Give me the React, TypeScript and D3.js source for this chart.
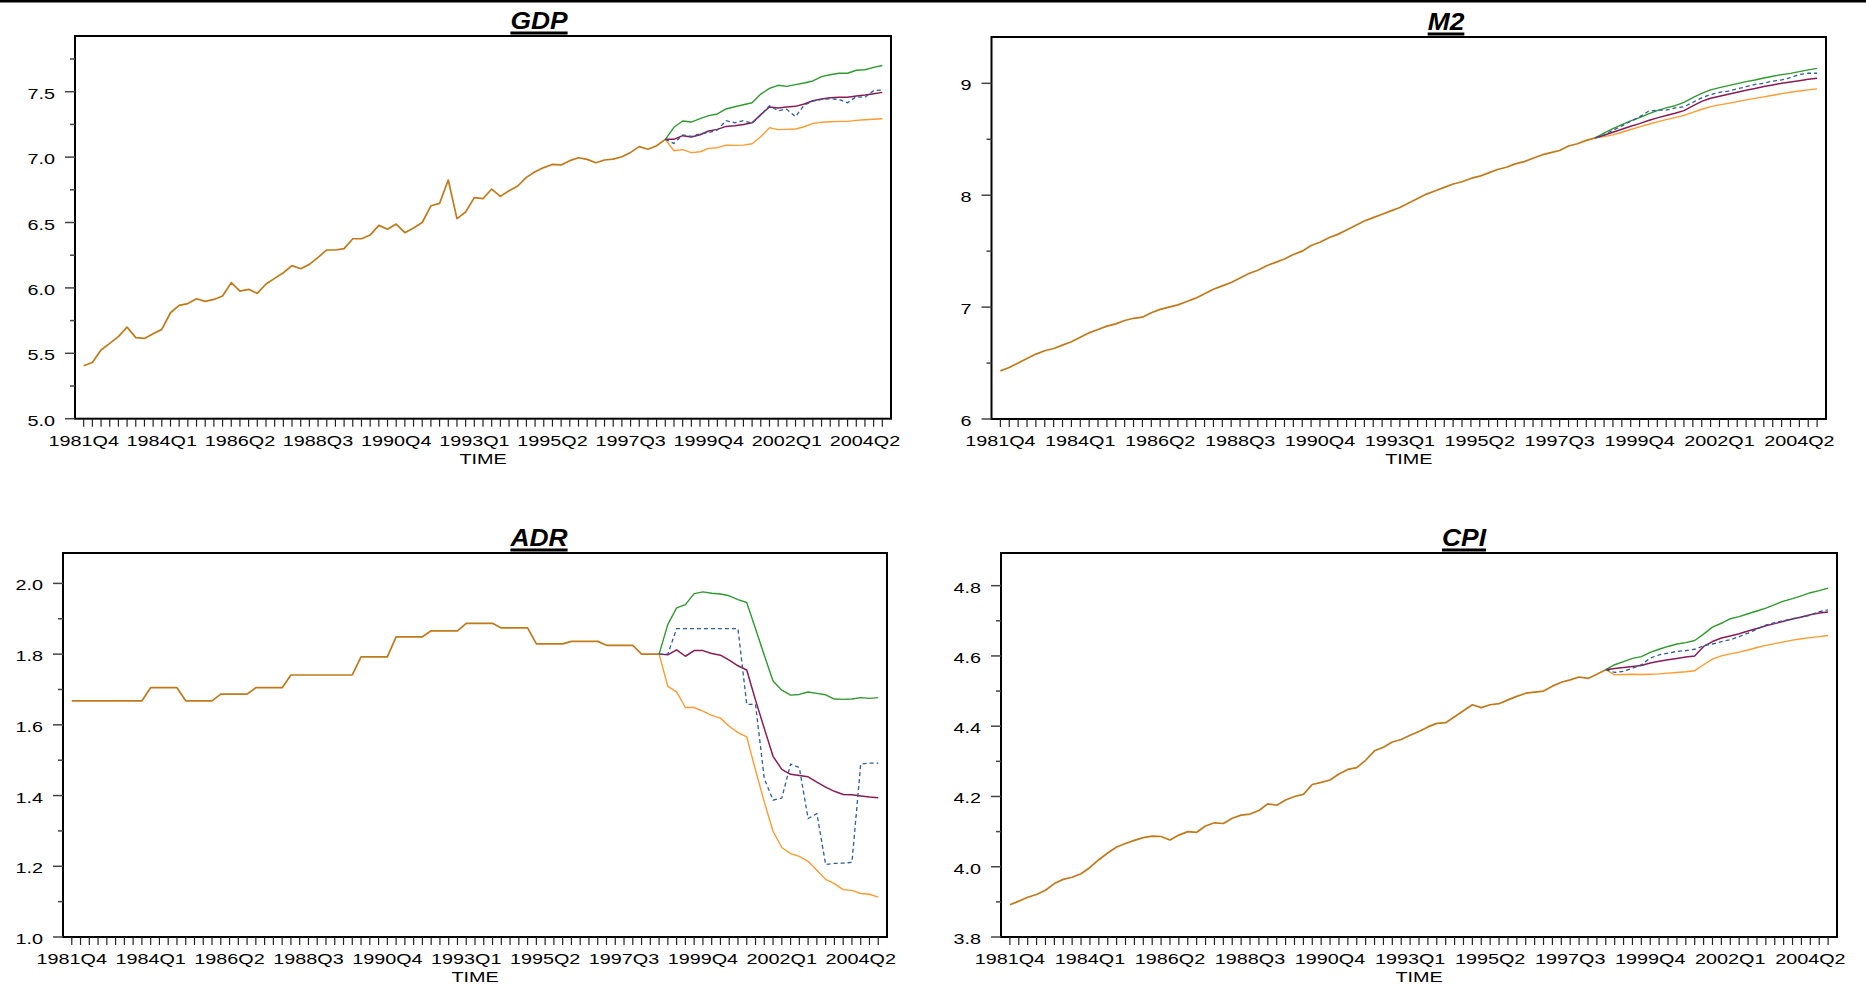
import React from 'react';
import * as d3 from 'd3';

// ---------- categories ----------
const START_YEAR = 1981;
const START_QUARTER = 4;
const N_QUARTERS = 93; // 1981Q4 .. 2004Q4
const SPLIT_INDEX = 67; // 1998Q3, forecasts start here
const QUARTERS: string[] = d3.range(N_QUARTERS).map((i) => {
  const k = START_QUARTER - 1 + i;
  return `${START_YEAR + Math.floor(k / 4)}Q${(k % 4) + 1}`;
});
const X_TICK_LABELS = ['1981Q4', '1984Q1', '1986Q2', '1988Q3', '1990Q4', '1993Q1', '1995Q2', '1997Q3', '1999Q4', '2002Q1', '2004Q2'];
const X_AXIS_LABEL = 'TIME';

// ---------- GDP ----------
const GDP_HIST = [5.405, 5.43, 5.525, 5.576, 5.627, 5.70, 5.62, 5.614, 5.65, 5.683,
  5.81, 5.866, 5.88, 5.917, 5.897, 5.912, 5.938, 6.04, 5.976, 5.989,
  5.958, 6.03, 6.073, 6.116, 6.17, 6.147, 6.18, 6.233, 6.29, 6.29,
  6.30, 6.376, 6.376, 6.404, 6.478, 6.448, 6.488, 6.422, 6.458, 6.50,
  6.628, 6.646, 6.825, 6.53, 6.58, 6.69, 6.682, 6.756, 6.70, 6.743,
  6.779, 6.845, 6.888, 6.92, 6.944, 6.94, 6.973, 6.995, 6.983, 6.957,
  6.978, 6.985, 7.003, 7.036, 7.08, 7.06, 7.087, 7.136];
const GDP_UPPER = [7.136, 7.228, 7.276, 7.268, 7.294, 7.317, 7.33, 7.368, 7.385, 7.40, 7.416, 7.482, 7.526, 7.549, 7.541, 7.554, 7.567, 7.582, 7.615, 7.63, 7.641, 7.641, 7.664, 7.668, 7.686, 7.70];
const GDP_BASE = [7.136, 7.136, 7.164, 7.154, 7.171, 7.20, 7.212, 7.235, 7.24, 7.25, 7.263, 7.325, 7.383, 7.375, 7.383, 7.388, 7.406, 7.431, 7.444, 7.454, 7.457, 7.457, 7.467, 7.475, 7.485, 7.495];
const GDP_LOWER = [7.136, 7.049, 7.057, 7.034, 7.041, 7.067, 7.072, 7.092, 7.09, 7.092, 7.102, 7.156, 7.225, 7.21, 7.212, 7.215, 7.232, 7.258, 7.266, 7.27, 7.273, 7.273, 7.281, 7.286, 7.289, 7.293];
const GDP_ACTUAL = [7.136, 7.105, 7.17, 7.158, 7.178, 7.187, 7.208, 7.279, 7.263, 7.279, 7.258, 7.322, 7.393, 7.355, 7.365, 7.309, 7.398, 7.428, 7.441, 7.446, 7.441, 7.416, 7.462, 7.457, 7.508, 7.513];
const GDP_TICKS = [5.0, 5.5, 6.0, 6.5, 7.0, 7.5];
const GDP_MINOR = [5.25, 5.75, 6.25, 6.75, 7.25, 7.75];

// ---------- M2 ----------
const M2_HIST = [6.43, 6.46, 6.50, 6.54, 6.58, 6.61, 6.63, 6.66, 6.69, 6.73,
  6.77, 6.80, 6.83, 6.85, 6.88, 6.90, 6.91, 6.95, 6.98, 7.00,
  7.02, 7.05, 7.08, 7.12, 7.16, 7.19, 7.22, 7.26, 7.30, 7.33,
  7.37, 7.40, 7.43, 7.47, 7.50, 7.55, 7.58, 7.62, 7.65, 7.69,
  7.73, 7.77, 7.80, 7.83, 7.86, 7.89, 7.93, 7.97, 8.01, 8.04,
  8.07, 8.10, 8.12, 8.15, 8.17, 8.20, 8.23, 8.25, 8.28, 8.30,
  8.33, 8.36, 8.38, 8.40, 8.44, 8.46, 8.49, 8.512];
const M2_UPPER = [8.512, 8.554, 8.596, 8.631, 8.664, 8.694, 8.727, 8.756, 8.78, 8.80, 8.83, 8.872, 8.911, 8.941, 8.962, 8.98, 8.997, 9.015, 9.03, 9.048, 9.063, 9.078, 9.089, 9.104, 9.12, 9.134];
const M2_BASE = [8.512, 8.536, 8.563, 8.589, 8.616, 8.640, 8.667, 8.691, 8.712, 8.732, 8.756, 8.798, 8.839, 8.866, 8.884, 8.902, 8.920, 8.938, 8.953, 8.971, 8.986, 9.00, 9.012, 9.024, 9.036, 9.045];
const M2_LOWER = [8.512, 8.524, 8.539, 8.563, 8.587, 8.611, 8.634, 8.655, 8.676, 8.694, 8.714, 8.741, 8.768, 8.792, 8.807, 8.821, 8.837, 8.852, 8.866, 8.879, 8.893, 8.908, 8.92, 8.932, 8.941, 8.95];
const M2_ACTUAL = [8.512, 8.54, 8.58, 8.62, 8.66, 8.70, 8.75, 8.76, 8.76, 8.78, 8.79, 8.83, 8.87, 8.90, 8.92, 8.93, 8.95, 8.97, 8.99, 9.00, 9.02, 9.03, 9.05, 9.08, 9.09, 9.09];
const M2_TICKS = [6, 7, 8, 9];
const M2_MINOR = [6.5, 7.5, 8.5];

// ---------- ADR ----------
const ADR_HIST = [1.668, 1.668, 1.668, 1.668, 1.668, 1.668, 1.668, 1.668, 1.668,
  1.705, 1.705, 1.705, 1.705,
  1.668, 1.668, 1.668, 1.668,
  1.687, 1.687, 1.687, 1.687,
  1.705, 1.705, 1.705, 1.705,
  1.741, 1.741, 1.741, 1.741, 1.741, 1.741, 1.741, 1.741,
  1.792, 1.792, 1.792, 1.792,
  1.849, 1.849, 1.849, 1.849,
  1.866, 1.866, 1.866, 1.866,
  1.887, 1.887, 1.887, 1.887,
  1.874, 1.874, 1.874, 1.874,
  1.829, 1.829, 1.829, 1.829,
  1.836, 1.836, 1.836, 1.836,
  1.825, 1.825, 1.825, 1.825,
  1.80, 1.80, 1.80];
const ADR_UPPER = [1.80, 1.884, 1.931, 1.940, 1.971, 1.976, 1.972, 1.970, 1.965, 1.954, 1.946, 1.872, 1.797, 1.724, 1.698, 1.684, 1.686, 1.693, 1.689, 1.685, 1.673, 1.672, 1.673, 1.677, 1.675, 1.677];
const ADR_BASE = [1.80, 1.798, 1.812, 1.794, 1.81, 1.81, 1.802, 1.797, 1.783, 1.767, 1.755, 1.67, 1.59, 1.511, 1.474, 1.46, 1.457, 1.453, 1.438, 1.424, 1.412, 1.403, 1.402, 1.399, 1.396, 1.394];
const ADR_LOWER = [1.80, 1.709, 1.693, 1.649, 1.649, 1.639, 1.627, 1.619, 1.596, 1.578, 1.566, 1.472, 1.382, 1.299, 1.253, 1.236, 1.228, 1.214, 1.189, 1.163, 1.151, 1.134, 1.132, 1.123, 1.121, 1.113];
const ADR_ACTUAL = [1.80, 1.80, 1.872, 1.872, 1.872, 1.872, 1.872, 1.872, 1.872, 1.872, 1.658, 1.658, 1.448, 1.387, 1.393, 1.489, 1.479, 1.335, 1.349, 1.205, 1.208, 1.209, 1.211, 1.489, 1.492, 1.492];
const ADR_TICKS = [1.0, 1.2, 1.4, 1.6, 1.8, 2.0];
const ADR_MINOR = [1.1, 1.3, 1.5, 1.7, 1.9];

// ---------- CPI ----------
const CPI_HIST = [3.892, 3.902, 3.913, 3.921, 3.933, 3.952, 3.964, 3.970, 3.980, 3.998,
  4.020, 4.039, 4.056, 4.066, 4.075, 4.083, 4.087, 4.086, 4.076, 4.090,
  4.100, 4.098, 4.116, 4.125, 4.123, 4.138, 4.147, 4.150, 4.160, 4.179,
  4.175, 4.190, 4.200, 4.206, 4.234, 4.240, 4.247, 4.264, 4.277, 4.282,
  4.303, 4.330, 4.340, 4.355, 4.362, 4.374, 4.385, 4.398, 4.408, 4.410,
  4.427, 4.444, 4.461, 4.453, 4.461, 4.464, 4.475, 4.485, 4.494, 4.497,
  4.500, 4.514, 4.525, 4.532, 4.540, 4.536, 4.548, 4.561];
const CPI_UPPER = [4.561, 4.575, 4.584, 4.593, 4.598, 4.61, 4.619, 4.627, 4.634, 4.638, 4.644, 4.662, 4.682, 4.693, 4.706, 4.712, 4.72, 4.728, 4.736, 4.746, 4.756, 4.763, 4.771, 4.78, 4.786, 4.793];
const CPI_BASE = [4.561, 4.564, 4.567, 4.57, 4.573, 4.58, 4.585, 4.589, 4.593, 4.597, 4.60, 4.627, 4.641, 4.651, 4.657, 4.663, 4.671, 4.678, 4.686, 4.692, 4.699, 4.705, 4.711, 4.717, 4.722, 4.725];
const CPI_LOWER = [4.561, 4.546, 4.547, 4.548, 4.547, 4.548, 4.549, 4.551, 4.553, 4.555, 4.558, 4.575, 4.591, 4.60, 4.606, 4.611, 4.617, 4.624, 4.63, 4.635, 4.64, 4.645, 4.649, 4.652, 4.655, 4.658];
const CPI_ACTUAL = [4.561, 4.553, 4.556, 4.565, 4.575, 4.594, 4.603, 4.608, 4.613, 4.615, 4.619, 4.629, 4.634, 4.641, 4.646, 4.655, 4.665, 4.676, 4.688, 4.695, 4.70, 4.706, 4.71, 4.716, 4.726, 4.731];
const CPI_TICKS = [3.8, 4.0, 4.2, 4.4, 4.6, 4.8];
const CPI_MINOR = [3.9, 4.1, 4.3, 4.5, 4.7];

// ---------- layout & style ----------
const W = 1866;
const H = 987;
const FONT = "'Liberation Sans', Arial, Helvetica, sans-serif";
const TEXT_SX = 1.32;
const COLORS = {
  hist: '#c07a1a',
  upper: '#2f9a2f',
  base: '#8b1a55',
  lower: '#ff9a2e',
  actual: '#2c5d9c',
};

type PanelDef = {
  title: string;
  box: { left: number; right: number; top: number; bottom: number };
  titleX: number;
  yDomain: [number, number];
  ticks: number[];
  minor: number[];
  fmt: string;
  hist: number[];
  upper: number[];
  base: number[];
  lower: number[];
  actual: number[];
};

const PANELS: PanelDef[] = [
  { title: 'GDP', box: { left: 75, right: 891, top: 36, bottom: 418.7 }, titleX: 539, yDomain: [5.0, 7.926], ticks: GDP_TICKS, minor: GDP_MINOR, fmt: '.1f', hist: GDP_HIST, upper: GDP_UPPER, base: GDP_BASE, lower: GDP_LOWER, actual: GDP_ACTUAL },
  { title: 'M2', box: { left: 991.5, right: 1826, top: 37, bottom: 419 }, titleX: 1446, yDomain: [6, 9.414], ticks: M2_TICKS, minor: M2_MINOR, fmt: 'd', hist: M2_HIST, upper: M2_UPPER, base: M2_BASE, lower: M2_LOWER, actual: M2_ACTUAL },
  { title: 'ADR', box: { left: 63, right: 887, top: 553, bottom: 937 }, titleX: 539, yDomain: [1.0, 2.086], ticks: ADR_TICKS, minor: ADR_MINOR, fmt: '.1f', hist: ADR_HIST, upper: ADR_UPPER, base: ADR_BASE, lower: ADR_LOWER, actual: ADR_ACTUAL },
  { title: 'CPI', box: { left: 1001, right: 1837, top: 553, bottom: 937 }, titleX: 1464, yDomain: [3.8, 4.893], ticks: CPI_TICKS, minor: CPI_MINOR, fmt: '.1f', hist: CPI_HIST, upper: CPI_UPPER, base: CPI_BASE, lower: CPI_LOWER, actual: CPI_ACTUAL },
];

const TITLE_WIDTH_EM: Record<string, number> = { GDP: 2.167, M2: 1.389, ADR: 2.166, CPI: 1.667 };

function Panel({ p }: { p: PanelDef }) {
  const { left, right, top, bottom } = p.box;
  const x = d3.scaleLinear().domain([-1, N_QUARTERS]).range([left, right]);
  const y = d3.scaleLinear().domain(p.yDomain).range([bottom, top]);
  const fmt = d3.format(p.fmt);
  const mk = (offset: number) =>
    d3.line<number>().x((_, i) => x(offset + i)).y((d) => y(d));
  const histPath = mk(0)(p.hist) || '';
  const fc = mk(SPLIT_INDEX);
  const titleSize = 24;
  const titleW = TITLE_WIDTH_EM[p.title] * titleSize * 1.1;
  const cx = (left + right) / 2;

  return (
    <g>
      {/* title */}
      <text
        transform={`translate(${p.titleX},${top - 7}) scale(1.1,1)`}
        textAnchor="middle"
        fontFamily={FONT}
        fontWeight="bold"
        fontStyle="italic"
        fontSize={titleSize}
        fill="#000"
      >
        {p.title}
      </text>
      <rect x={p.titleX - titleW / 2} y={top - 4.5} width={titleW} height={3} fill="#000" />

      {/* lines */}
      <path d={histPath} fill="none" stroke={COLORS.hist} strokeWidth={1.7} strokeLinejoin="round" />
      <path d={fc(p.upper) || ''} fill="none" stroke={COLORS.upper} strokeWidth={1.4} strokeLinejoin="round" />
      <path d={fc(p.lower) || ''} fill="none" stroke={COLORS.lower} strokeWidth={1.4} strokeLinejoin="round" />
      <path d={fc(p.base) || ''} fill="none" stroke={COLORS.base} strokeWidth={1.5} strokeLinejoin="round" />
      <path d={fc(p.actual) || ''} fill="none" stroke={COLORS.actual} strokeWidth={1.3} strokeDasharray="4 3" />

      {/* frame */}
      <rect x={left} y={top} width={right - left} height={bottom - top} fill="none" stroke="#000" strokeWidth={2} />

      {/* y ticks */}
      {p.ticks.map((t) => (
        <g key={'yt' + t}>
          <line x1={left - 10} x2={left} y1={y(t)} y2={y(t)} stroke="#444" strokeWidth={1.5} />
          <text
            transform={`translate(${left - 20},${y(t) + 7}) scale(${TEXT_SX},1)`}
            textAnchor="end"
            fontFamily={FONT}
            fontSize={15}
            fill="#000"
          >
            {fmt(t)}
          </text>
        </g>
      ))}
      {p.minor.map((t) => (
        <line key={'ym' + t} x1={left - 5} x2={left} y1={y(t)} y2={y(t)} stroke="#444" strokeWidth={1.5} />
      ))}

      {/* x ticks */}
      {QUARTERS.map((q, i) => (
        <line key={'xt' + q} x1={x(i)} x2={x(i)} y1={bottom} y2={bottom + 8} stroke="#222" strokeWidth={1.2} />
      ))}
      {X_TICK_LABELS.map((l) => {
        const i = QUARTERS.indexOf(l);
        return (
          <text
            key={'xl' + l}
            transform={`translate(${x(i)},${bottom + 27}) scale(${TEXT_SX},1)`}
            textAnchor="middle"
            fontFamily={FONT}
            fontSize={15}
            fill="#000"
          >
            {l}
          </text>
        );
      })}
      <text
        transform={`translate(${cx},${bottom + 45}) scale(${TEXT_SX},1)`}
        textAnchor="middle"
        fontFamily={FONT}
        fontSize={15}
        fill="#000"
      >
        {X_AXIS_LABEL}
      </text>
    </g>
  );
}

export default function App() {
  return (
    <svg
      width={W}
      height={H}
      viewBox={`0 0 ${W} ${H}`}
      style={{ position: 'absolute', left: 0, top: 0, display: 'block', background: '#fff' }}
    >
      <rect x={0} y={0} width={W} height={H} fill="#fff" />
      <rect x={0} y={0} width={W} height={2.5} fill="#000" />
      {PANELS.map((p) => (
        <Panel key={p.title} p={p} />
      ))}
    </svg>
  );
}
